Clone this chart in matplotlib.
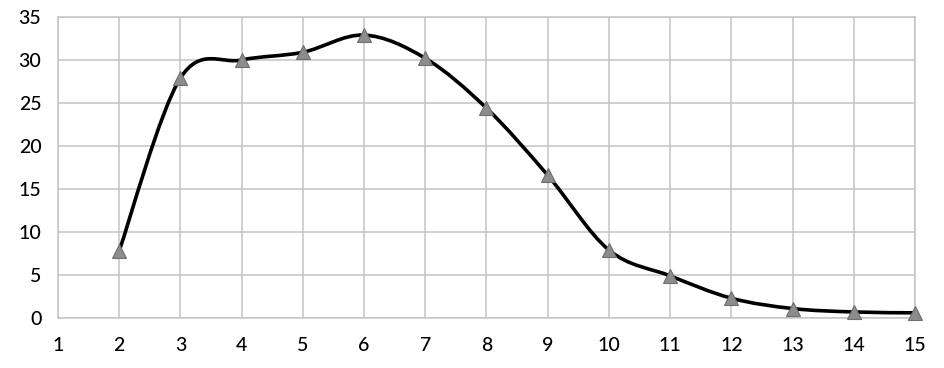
import matplotlib.pyplot as plt
import numpy as np
from matplotlib.path import Path
from matplotlib.patches import PathPatch

x_vals = [2, 3, 4, 5, 6, 7, 8, 9, 10, 11, 12, 13, 14, 15]
y_vals = [7.8, 27.9, 30.0, 30.9, 32.9, 30.2, 24.4, 16.6, 7.9, 4.9, 2.3, 1.1, 0.7, 0.6]
x_ticks = list(range(1, 16))
y_ticks = [0, 5, 10, 15, 20, 25, 30, 35]


def smooth_path(xs, ys, t=1 / 6):
    # Excel-like smoothed line: cubic Bezier through the points
    pts = np.column_stack([xs, ys]).astype(float)
    n = len(pts)
    verts = [pts[0]]
    codes = [Path.MOVETO]
    for i in range(n - 1):
        p0 = pts[i - 1] if i > 0 else pts[i]
        p1 = pts[i]
        p2 = pts[i + 1]
        p3 = pts[i + 2] if i + 2 < n else pts[i + 1]
        c1 = p1 + (p2 - p0) * t
        c2 = p2 - (p3 - p1) * t
        verts += [c1, c2, p2]
        codes += [Path.CURVE4] * 3
    return Path(verts, codes)


plt.rcParams['font.family'] = ['Lato', 'DejaVu Sans']

fig = plt.figure(figsize=(9.44, 3.68), dpi=100)
ax = fig.add_axes([0.0614, 0.1359, 0.9079, 0.8179])

ax.add_patch(PathPatch(smooth_path(x_vals, y_vals), facecolor='none',
                       edgecolor='black', lw=2.6, zorder=3))
ax.plot(x_vals, y_vals, linestyle='none', marker='^', markersize=10.5,
        markerfacecolor='#8c8c8c', markeredgecolor='#6e6e6e', markeredgewidth=0.8,
        zorder=4, clip_on=False)

ax.set_xlim(1, 15)
ax.set_ylim(0, 35)
ax.set_xticks(x_ticks)
ax.set_yticks(y_ticks)
ax.grid(True, color='#c4c4c4', lw=1.1)
ax.set_axisbelow(True)
for s in ax.spines.values():
    s.set_color('#c4c4c4')
    s.set_linewidth(1.1)
ax.tick_params(length=0, labelsize=14, colors='black')
for lab in ax.get_xticklabels() + ax.get_yticklabels():
    lab.set_fontweight('medium')
ax.tick_params(axis='x', pad=14)
ax.tick_params(axis='y', pad=12)

fig.savefig('out.png', dpi=100)
